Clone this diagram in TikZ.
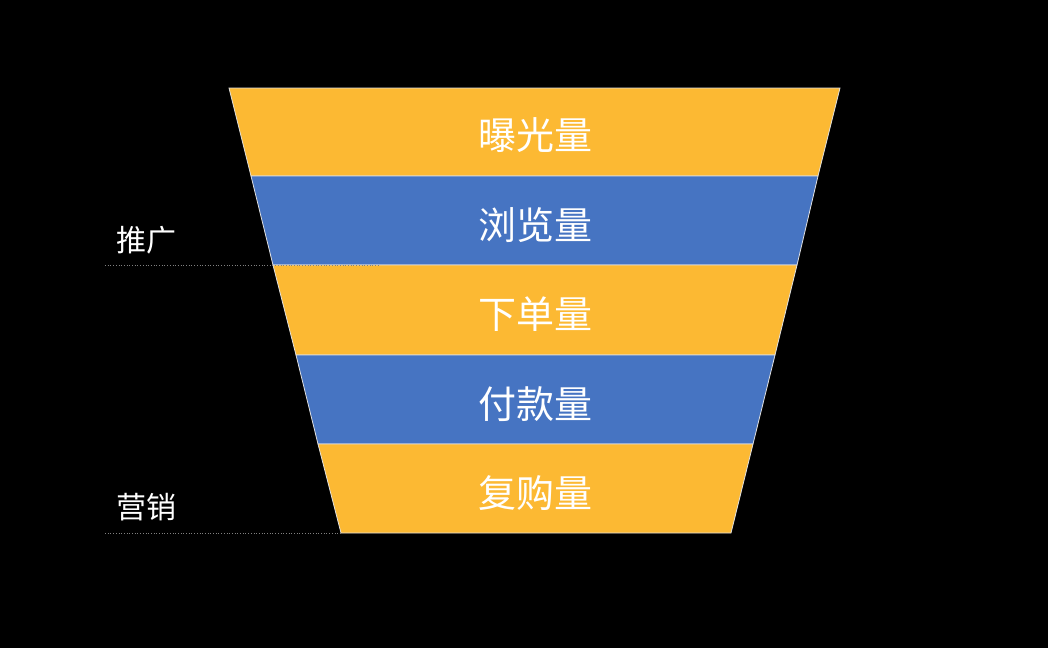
\documentclass[tikz,border=0pt]{standalone}
\usepackage{fontspec}
\setmainfont{Noto Sans CJK SC}
\definecolor{funnelyellow}{HTML}{FCB933}
\definecolor{funnelblue}{HTML}{4674C2}
\begin{document}
\begin{tikzpicture}[x=1pt, y=-1pt,
    band/.style={draw=white!88!black, line width=0.8pt},
    bandtext/.style={text=white, font=\fontsize{38}{41}\selectfont},
    sidetext/.style={text=white, font=\fontsize{30}{34}\selectfont},
    guide/.style={draw=gray, dotted, line width=0.7pt}]
    \fill[black] (0,0) rectangle (1048,648);
    \useasboundingbox (0,0) rectangle (1048,648);
    % funnel bands
    \filldraw[band, fill=funnelyellow] (229,88) -- (840,88) -- (818,176) -- (251,176) -- cycle;
    \filldraw[band, fill=funnelblue] (251,176) -- (818,176) -- (797,265) -- (273,265) -- cycle;
    \filldraw[band, fill=funnelyellow] (273,265) -- (797,265) -- (775,355) -- (296,355) -- cycle;
    \filldraw[band, fill=funnelblue] (296,355) -- (775,355) -- (753,444) -- (318,444) -- cycle;
    \filldraw[band, fill=funnelyellow] (318,444) -- (753,444) -- (731,533) -- (341,533) -- cycle;
    \node[bandtext] (expo) at (535,135) {曝光量};
    \node[bandtext] (view) at (535,225) {浏览量};
    \node[bandtext] (order) at (535,314) {下单量};
    \node[bandtext] (pay) at (535,404) {付款量};
    \node[bandtext] (rebuy) at (535,493) {复购量};
    % side labels
    \node[sidetext] (promo) at (146,240) {推广};
    \node[sidetext] (market) at (146,507) {营销};
    \coordinate (promoL) at (105,265);
    \coordinate (promoR) at (379,265);
    \coordinate (marketL) at (105,533);
    \coordinate (marketR) at (341,533);
    \draw[guide] (promoL) -- (promoR);
    \draw[guide] (marketL) -- (marketR);
\end{tikzpicture}
\end{document}
